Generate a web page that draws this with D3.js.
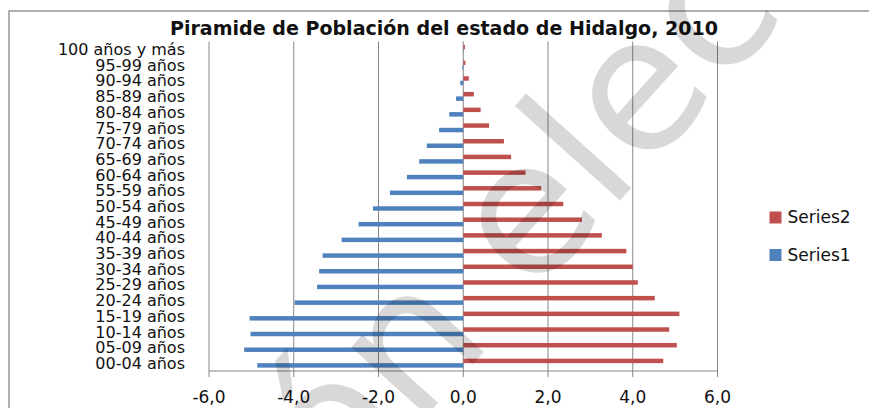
<!DOCTYPE html>
<html lang="es">
<head>
<meta charset="UTF-8">
<title>Piramide de Población del estado de Hidalgo, 2010</title>
<script src="https://d3js.org/d3.v7.min.js"></script>
<style>
  body { margin: 0; background: #fff; }
  svg { display: block; }
  text { font-family: "DejaVu Sans", sans-serif; fill: #111; }
</style>
</head>
<body>
<svg id="chart" width="869" height="408"></svg>
<script>
// age groups, bottom to top
const categories = ["00-04 años", "05-09 años", "10-14 años", "15-19 años", "20-24 años",
  "25-29 años", "30-34 años", "35-39 años", "40-44 años", "45-49 años", "50-54 años",
  "55-59 años", "60-64 años", "65-69 años", "70-74 años", "75-79 años", "80-84 años",
  "85-89 años", "90-94 años", "95-99 años", "100 años y más"];
const series1 = [-4.86, -5.17, -5.02, -5.04, -3.98, -3.45, -3.40, -3.32, -2.87, -2.47, -2.13,
  -1.73, -1.33, -1.04, -0.86, -0.57, -0.33, -0.17, -0.07, -0.02, -0.01];
const series2 = [4.72, 5.04, 4.86, 5.10, 4.52, 4.12, 4.00, 3.85, 3.27, 2.80, 2.36,
  1.84, 1.47, 1.13, 0.96, 0.61, 0.41, 0.25, 0.13, 0.05, 0.04];
const xTicks = [-6, -4, -2, 0, 2, 4, 6];
const seriesNames = ["Series2", "Series1"];
const colors = { Series1: "#4f81bd", Series2: "#c0504d" };

const svg = d3.select("#chart");
const plot = { left: 209, right: 717.5, top: 41.5, bottom: 371 };

const x = d3.scaleLinear().domain([-6, 6]).range([plot.left, plot.right]);
const y = d3.scaleBand().domain(categories.slice().reverse()).range([plot.top, plot.bottom]);
// two bars per category, gap width 150%
const sub = d3.scaleBand().domain(seriesNames).range([0, y.bandwidth()]).paddingOuter(0.75);

const fmt = d3.formatLocale({ decimal: ",", thousands: ".", grouping: [3], currency: ["", ""], minus: "-" }).format(".1f");

// outer frame
svg.append("rect").attr("x", 9).attr("y", 11).attr("width", 900).attr("height", 500)
  .attr("fill", "none").attr("stroke", "#868686").attr("stroke-width", 1.3);

// title
svg.append("text").attr("x", 444).attr("y", 35).attr("text-anchor", "middle")
  .attr("font-size", 19).attr("font-weight", "bold")
  .attr("textLength", 548).attr("lengthAdjust", "spacingAndGlyphs")
  .text("Piramide de Población del estado de Hidalgo, 2010");

// vertical gridlines + tick marks
svg.append("g").selectAll("line").data(xTicks).join("line")
  .attr("x1", d => x(d)).attr("x2", d => x(d))
  .attr("y1", plot.top).attr("y2", plot.bottom + 6)
  .attr("stroke", "#868686").attr("stroke-width", 1);

// bars
const rows = categories.map((c, i) => ({ cat: c, Series1: series1[i], Series2: series2[i] }));
seriesNames.forEach(s => {
  svg.append("g").selectAll("rect").data(rows).join("rect")
    .attr("x", d => x(Math.min(0, d[s])))
    .attr("width", d => Math.abs(x(d[s]) - x(0)))
    .attr("y", d => y(d.cat) + sub(s))
    .attr("height", sub.bandwidth())
    .attr("fill", colors[s]);
});

// horizontal axis line
svg.append("line").attr("x1", plot.left).attr("x2", plot.right)
  .attr("y1", plot.bottom).attr("y2", plot.bottom)
  .attr("stroke", "#868686").attr("stroke-width", 1);

// x tick labels
svg.append("g").selectAll("text").data(xTicks).join("text")
  .attr("x", d => x(d)).attr("y", 403).attr("text-anchor", "middle")
  .attr("font-size", 17).text(d => fmt(d));

// category labels
svg.append("g").selectAll("text").data(categories).join("text")
  .attr("x", 185).attr("y", d => y(d) + y.bandwidth() / 2).attr("dy", "0.36em")
  .attr("text-anchor", "end").attr("font-size", 16).text(d => d);

// legend
const legend = svg.append("g").selectAll("g").data(seriesNames).join("g")
  .attr("transform", (d, i) => `translate(769.5,${211.5 + i * 37.5})`);
legend.append("rect").attr("width", 12).attr("height", 12).attr("fill", d => colors[d]);
legend.append("text").attr("x", 18).attr("y", 11.5).attr("font-size", 17).text(d => d);

// watermark, anchored on the first "e"
const wm = svg.append("g")
  .attr("transform", "translate(532,222) rotate(-48) translate(-57,51)")
  .attr("opacity", 0.15).style("pointer-events", "none");
wm.append("text").attr("x", 0).attr("font-size", 186).style("fill", "#000").text("electoral");
wm.append("text").attr("x", -56).attr("text-anchor", "end").attr("font-size", 186)
  .style("fill", "#000").text("ón");
</script>
</body>
</html>
